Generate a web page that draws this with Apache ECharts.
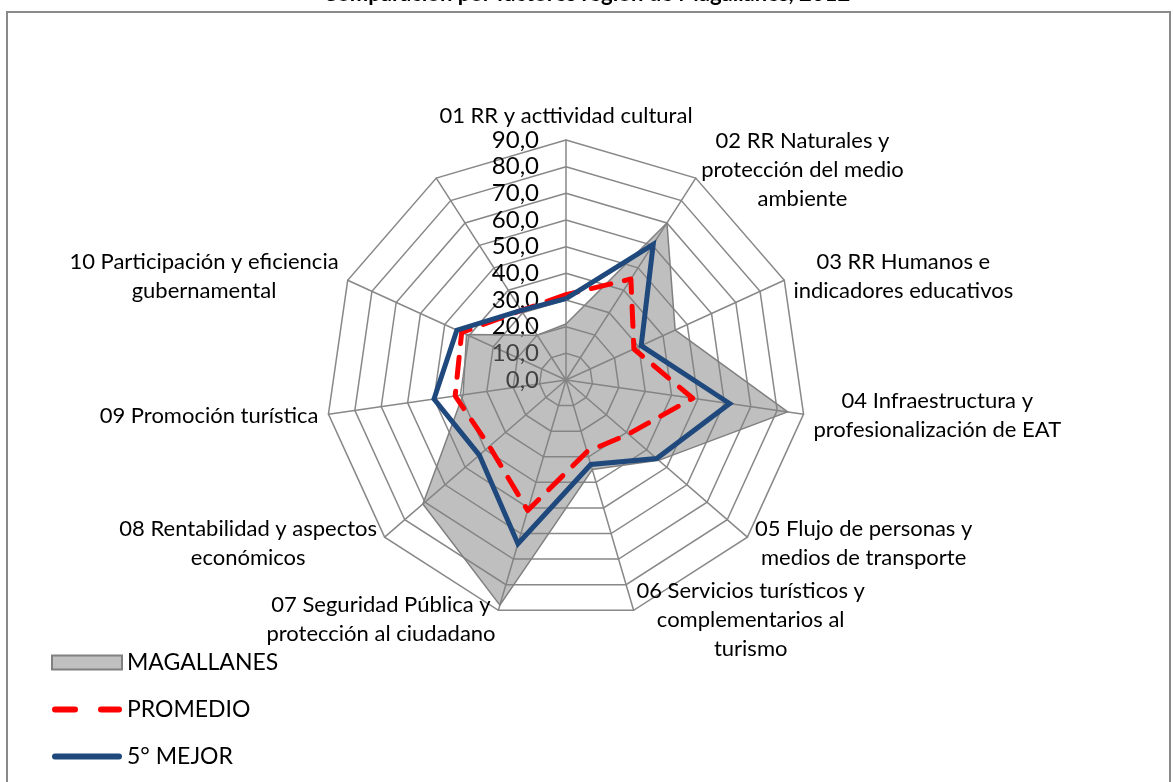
<!DOCTYPE html>
<html>
<head>
<meta charset="utf-8">
<script src="https://cdn.jsdelivr.net/npm/echarts@6/dist/echarts.min.js"></script>
<style>
  html, body { margin: 0; padding: 0; background: #fff; }
  #chart { width: 1173px; height: 782px; }
</style>
</head>
<body>
<div id="chart"></div>
<script>
// categorias (el eje 11 queda sin nombre, como en la planilla)
const categorias = [
  '01 RR y acttividad cultural',
  '02 RR Naturales y\nprotección del medio\nambiente',
  '03 RR Humanos e\nindicadores educativos',
  '04 Infraestructura y\nprofesionalización de EAT',
  '05 Flujo de personas y\nmedios de transporte',
  '06 Servicios turísticos y\ncomplementarios al\nturismo',
  '07 Seguridad Pública y\nprotección al ciudadano',
  '08 Rentabilidad y aspectos\neconómicos',
  '09 Promoción turística',
  '10 Participación y eficiencia\ngubernamental',
  ''
];
const magallanes = [21, 70, 45, 84, 46, 35, 88, 71, 39, 41, 20];
const promedio   = [32, 45, 28, 48, 31, 28, 51, 38, 42, 43, 31];
const mejor      = [30.5, 60.5, 31, 62, 45, 33, 64, 43, 50, 45, 31];
const maxValor = 90;

// echarts reparte los ejes en sentido antihorario: se invierte el orden
const orden = [0];
for (let i = categorias.length - 1; i > 0; i--) orden.push(i);
const reordenar = arr => orden.map(i => arr[i]);

const fuente = 'Lato, "Open Sans", sans-serif';
const indicadores = reordenar(categorias).map((c, i) => {
  const ind = { name: c, min: 0, max: maxValor };
  if (i === 0) {
    ind.axisLabel = {
      show: true,
      color: '#000',
      fontSize: 24,
      fontFamily: fuente,
      margin: 27,
      formatter: v => v.toFixed(1).replace('.', ',')
    };
  }
  return ind;
});

const myChart = echarts.init(document.getElementById('chart'));
const option = {
  backgroundColor: '#fff',
  animation: false,
  title: {
    text: 'Comparación por factores región de Magallanes, 2012',
    left: 'center',
    top: -22,
    textStyle: { fontSize: 22, fontWeight: 'bold', color: '#000', fontFamily: fuente }
  },
  graphic: [{
    type: 'rect',
    shape: { x: 7, y: 12, width: 1163, height: 790 },
    style: { fill: 'none', stroke: '#8a8a8a', lineWidth: 2 },
    silent: true
  }],
  legend: {
    orient: 'vertical',
    left: 46,
    top: 646,
    itemWidth: 70,
    itemHeight: 14,
    itemGap: 24,
    textStyle: { fontSize: 23, lineHeight: 22, color: '#000', fontFamily: fuente, padding: [0, 0, 0, 0] },
    data: [
      { name: 'MAGALLANES', icon: 'rect',
        itemStyle: { color: '#c0c0c0', borderColor: '#808080', borderWidth: 2 } },
      { name: 'PROMEDIO',
        icon: 'path://M0,0h0.05v0.05h-0.05z M70,14h-0.05v-0.05h0.05z M3,4h20a3,3 0 0 1 0,6h-20a3,3 0 0 1 0,-6z M49,4h18a3,3 0 0 1 0,6h-18a3,3 0 0 1 0,-6z',
        itemStyle: { color: '#ff0000', borderWidth: 0 } },
      { name: '5° MEJOR',
        icon: 'path://M0,0h0.05v0.05h-0.05z M70,14h-0.05v-0.05h0.05z M3,4h64a3,3 0 0 1 0,6h-64a3,3 0 0 1 0,-6z',
        itemStyle: { color: '#1f497d', borderWidth: 0 } }
    ]
  },
  radar: {
    center: [566, 380],
    radius: 240,
    startAngle: 90,
    splitNumber: 9,
    shape: 'polygon',
    nameGap: 10,
    indicator: indicadores,
    axisName: {
      color: '#000',
      fontSize: 22,
      fontFamily: fuente,
      formatter: name => name.split('\n').map(l => '{c|' + l + '}').join('\n'),
      rich: {
        c: { align: 'center', fontSize: 22, lineHeight: 29, color: '#000', fontFamily: fuente }
      }
    },
    axisLabel: { show: false },
    axisTick: { show: false },
    axisLine: { lineStyle: { color: '#888', width: 1.5 } },
    splitLine: { lineStyle: { color: '#888', width: 1.5 } },
    splitArea: { show: false }
  },
  series: [{
    type: 'radar',
    symbol: 'none',
    data: [
      {
        name: 'MAGALLANES',
        value: reordenar(magallanes),
        lineStyle: { color: '#808080', width: 1.5 },
        itemStyle: { color: '#c0c0c0' },
        areaStyle: { color: '#808080', opacity: 0.5 }
      },
      {
        name: 'PROMEDIO',
        value: reordenar(promedio),
        lineStyle: { color: '#ff0000', width: 5, type: [20, 14], cap: 'round' },
        itemStyle: { color: '#ff0000' }
      },
      {
        name: '5° MEJOR',
        value: reordenar(mejor),
        lineStyle: { color: '#1f497d', width: 5, join: 'miter' },
        itemStyle: { color: '#1f497d' }
      }
    ]
  }]
};

myChart.setOption(option, true);
window.addEventListener('resize', () => {
  myChart.resize();
});
</script>
</body>
</html>
